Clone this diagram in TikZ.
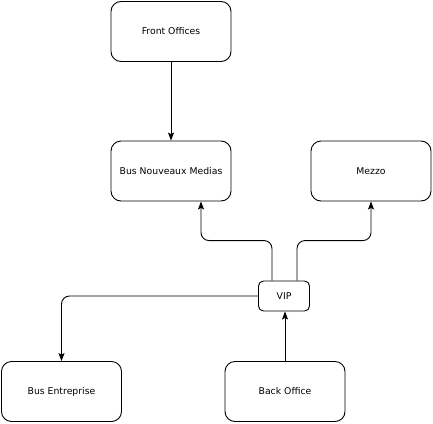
\documentclass[tikz,border=0pt]{standalone}
\usepackage{fontspec}
\setmainfont{DejaVu Sans}
\usetikzlibrary{arrows.meta}
\begin{document}
\begin{tikzpicture}[x=1pt,y=1pt,
  box/.style={draw, line width=0.9pt, rounded corners=10pt, minimum width=120pt, minimum height=60pt, inner sep=0pt, font=\fontsize{9.3}{11}\selectfont},
  smallbox/.style={draw, line width=0.9pt, rounded corners=5pt, minimum width=51pt, minimum height=30pt, inner sep=0pt, font=\fontsize{9.3}{11}\selectfont},
  arr/.style={line width=0.9pt, -{Stealth[length=8pt,width=6pt,inset=1.5pt]}},
  conn/.style={arr, rounded corners=8pt}]
\useasboundingbox (0,0) rectangle (433,-423);
\node[box] (fo) at (171,-31.5) {Front Offices};
\node[box] (bnm) at (171,-171) {Bus Nouveaux Medias};
\node[box] (mezzo) at (371,-171) {Mezzo};
\node[smallbox] (vip) at (284,-296) {VIP};
\node[box] (be) at (61.5,-391.5) {Bus Entreprise};
\node[box] (bo) at (285,-391.5) {Back Office};
\draw[arr] (fo.south) -- (bnm.north);
\draw[conn] ([xshift=-12pt]vip.north) -- ++(0,40) -| ([xshift=30pt]bnm.south);
\draw[conn] ([xshift=13pt]vip.north) -- ++(0,40) -| (mezzo.south);
\draw[conn] (vip.west) -| (be.north);
\draw[arr] (bo.north) -- (bo.north |- vip.south);
\end{tikzpicture}
\end{document}
